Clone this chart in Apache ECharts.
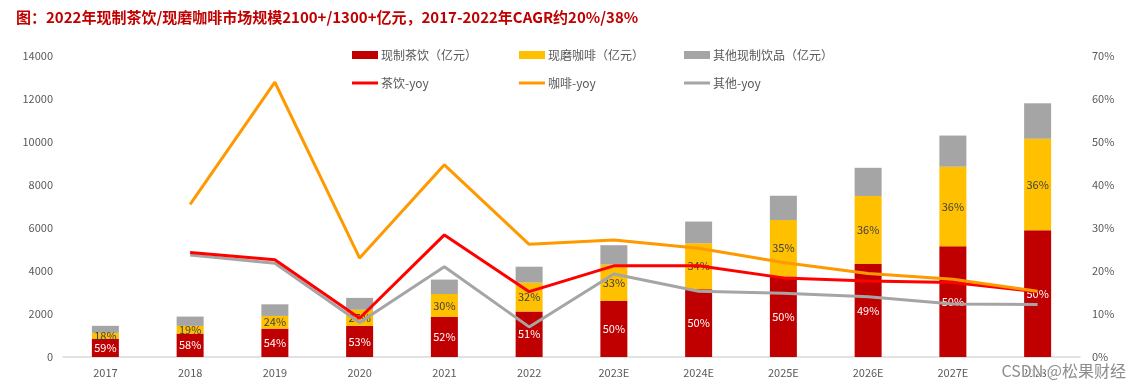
<!DOCTYPE html>
<html>
<head>
<meta charset="utf-8">
<script src="https://cdn.jsdelivr.net/npm/echarts@6/dist/echarts.min.js"></script>
<style>
html,body{margin:0;padding:0;background:#fff;}
#c{width:1135px;height:388px;}
</style>
</head>
<body>
<div id="c"></div>
<script>
const categories = ['2017','2018','2019','2020','2021','2022','2023E','2024E','2025E','2026E','2027E','2028E'];
const teaValues = [855, 1090, 1320, 1450, 1860, 2120, 2600, 3150, 3750, 4330, 5150, 5900];
const coffeeValues = [265, 357, 590, 745, 1070, 1340, 1700, 2140, 2620, 3160, 3700, 4250];
const otherValues = [330, 433, 540, 555, 670, 740, 900, 1010, 1130, 1310, 1450, 1650];
const teaShare = [59, 58, 54, 53, 52, 51, 50, 50, 50, 49, 50, 50];
const coffeeShare = [18, 19, 24, 27, 30, 32, 33, 34, 35, 36, 36, 36];
const teaYoy = [null, 24.3, 22.6, 9.0, 28.4, 15.2, 21.2, 21.2, 18.4, 17.7, 17.3, 15.2];
const coffeeYoy = [null, 35.5, 63.9, 23.0, 44.7, 26.2, 27.2, 25.3, 22.0, 19.4, 18.1, 15.3];
const otherYoy = [null, 23.7, 21.8, 8.0, 21.0, 7.0, 19.3, 15.3, 14.8, 14.0, 12.3, 12.2];
const leftTicks = [0, 14000, 2000];
const rightTicks = [0, 70, 10];

const FONT = '"Noto Sans CJK SC", "Noto Sans", sans-serif';
const chart = echarts.init(document.getElementById('c'), null, {renderer: 'canvas'});

function legendAt(name, left, top, isLine) {
  return {
    data: [name], left: left, top: top,
    itemWidth: 26, itemHeight: isLine ? 3 : 8, itemGap: 0,
    padding: 0,
    icon: 'rect',
    textStyle: {fontFamily: FONT, fontSize: 12, color: '#595959', padding: [0, 0, 0, -2]},
    itemStyle: {borderWidth: 0}
  };
}

const option = {
  animation: false,
  textStyle: {fontFamily: FONT},
  title: {
    text: '图：2022年现制茶饮/现磨咖啡市场规模2100+/1300+亿元，2017-2022年CAGR约20%/38%',
    left: 11, top: 5,
    textStyle: {fontFamily: FONT, fontSize: 15, fontWeight: 'bold', color: '#C00000'}
  },
  legend: [
    legendAt('现制茶饮（亿元）', 352, 49, false),
    legendAt('现磨咖啡（亿元）', 519, 49, false),
    legendAt('其他现制饮品（亿元）', 684, 49, false),
    legendAt('茶饮-yoy', 352, 77, true),
    legendAt('咖啡-yoy', 519, 77, true),
    legendAt('其他-yoy', 684, 77, true)
  ],
  grid: {left: 63, right: 55, top: 56, bottom: 31, containLabel: false},
  xAxis: {
    type: 'category', data: categories,
    axisLine: {lineStyle: {color: '#D9D9D9', width: 1.5}},
    axisTick: {show: false},
    axisLabel: {color: '#595959', fontSize: 11, margin: 10, fontFamily: FONT}
  },
  yAxis: [
    {
      type: 'value', min: leftTicks[0], max: leftTicks[1], interval: leftTicks[2],
      splitLine: {show: false}, axisLine: {show: false}, axisTick: {show: false},
      axisLabel: {color: '#595959', fontSize: 11, margin: 10, fontFamily: FONT, formatter: v => String(v)}
    },
    {
      type: 'value', min: rightTicks[0], max: rightTicks[1], interval: rightTicks[2],
      splitLine: {show: false}, axisLine: {show: false}, axisTick: {show: false},
      axisLabel: {color: '#595959', fontSize: 11, margin: 12, fontFamily: FONT, formatter: '{value}%'}
    }
  ],
  series: [
    {
      name: '现制茶饮（亿元）', type: 'bar', stack: 'total', data: teaValues, barWidth: 27,
      itemStyle: {color: '#C00000'},
      label: {show: true, position: 'inside', color: '#FFFFFF', fontSize: 11, fontFamily: FONT,
        formatter: p => teaShare[p.dataIndex] + '%'}
    },
    {
      name: '现磨咖啡（亿元）', type: 'bar', stack: 'total', data: coffeeValues, barWidth: 27,
      itemStyle: {color: '#FFC000'},
      label: {show: true, position: 'inside', color: '#404040', fontSize: 11, fontFamily: FONT,
        formatter: p => coffeeShare[p.dataIndex] + '%'}
    },
    {
      name: '其他现制饮品（亿元）', type: 'bar', stack: 'total', data: otherValues, barWidth: 27,
      itemStyle: {color: '#A5A5A5'}
    },
    {
      name: '茶饮-yoy', type: 'line', yAxisIndex: 1, data: teaYoy, symbol: 'none',
      lineStyle: {color: '#FF0000', width: 3}, itemStyle: {color: '#FF0000'}, z: 4
    },
    {
      name: '咖啡-yoy', type: 'line', yAxisIndex: 1, data: coffeeYoy, symbol: 'none',
      lineStyle: {color: '#FF9900', width: 3}, itemStyle: {color: '#FF9900'}, z: 4
    },
    {
      name: '其他-yoy', type: 'line', yAxisIndex: 1, data: otherYoy, symbol: 'none',
      lineStyle: {color: '#A5A5A5', width: 3}, itemStyle: {color: '#A5A5A5'}, z: 3
    }
  ],
  graphic: [{
    type: 'text', right: 8, top: 362, z: 100,
    style: {text: 'CSDN @松果财经', fontSize: 16, fontFamily: FONT, fill: 'rgba(120,120,120,0.85)',
      stroke: '#ffffff', lineWidth: 2}
  }]
};
chart.setOption(option);
</script>
</body>
</html>
